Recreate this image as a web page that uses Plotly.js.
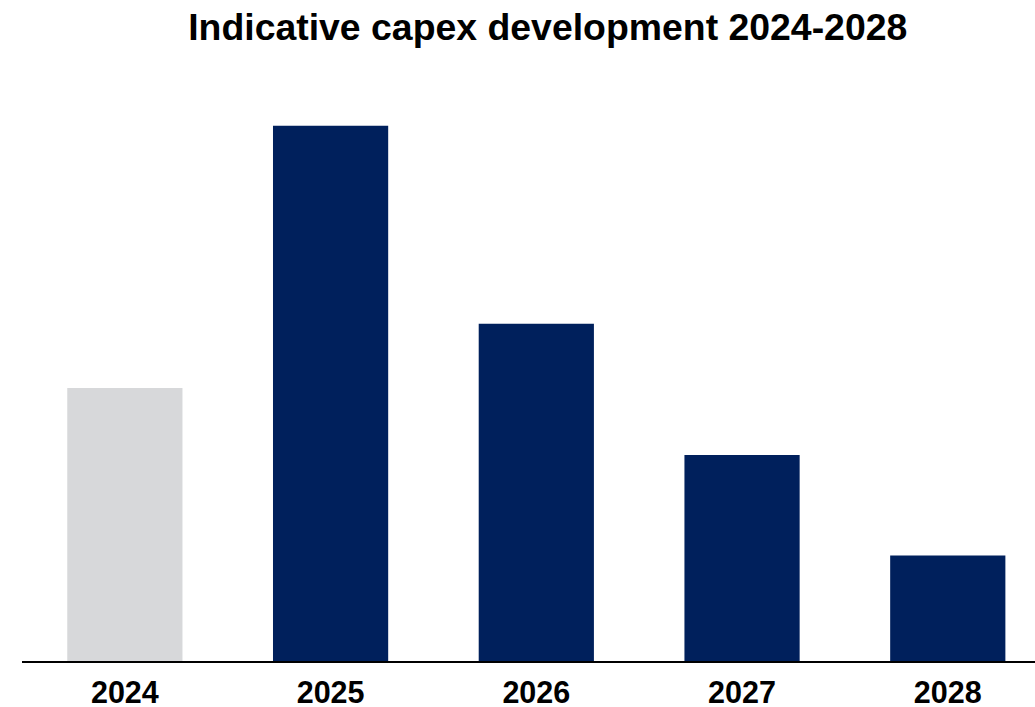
<!DOCTYPE html>
<html>
<head>
<meta charset="utf-8">
<script src="https://cdn.plot.ly/plotly-3.0.1.min.js"></script>
<style>html,body{margin:0;padding:0;background:#fff;}#chart{width:1035px;height:707px;}</style>
</head>
<body>
<div id="chart"></div>
<script>
const years = ['2024', '2025', '2026', '2027', '2028'];
const capex = [5.1, 10.0, 6.3, 3.85, 1.97];
const barColors = ['#d7d8da', '#00205c', '#00205c', '#00205c', '#00205c'];
const titleText = 'Indicative capex development 2024-2028';

const trace = {
  type: 'bar',
  x: years,
  y: capex,
  marker: {color: barColors, line: {width: 0}},
  hoverinfo: 'x+y'
};

const layout = {
  width: 1035,
  height: 707,
  margin: {l: 22, r: 0, t: 100, b: 46, pad: 0},
  paper_bgcolor: '#ffffff',
  plot_bgcolor: '#ffffff',
  bargap: 0.44,
  showlegend: false,
  title: {
    text: '<b>' + titleText + '</b>',
    font: {family: 'Liberation Sans, Arial, sans-serif', size: 37.4, color: '#000000'},
    x: 0.519, xanchor: 'center', xref: 'paper',
    y: 1 - 27 / 707, yanchor: 'middle', yref: 'container'
  },
  xaxis: {
    type: 'category',
    range: [-0.5, 4.424],
    showline: true, linecolor: '#000000', linewidth: 2,
    showgrid: false, zeroline: false,
    ticks: '', ticklabelstandoff: 3,
    tickfont: {family: 'Liberation Sans, Arial, sans-serif', size: 30.5, color: '#000000', weight: 'bold'}
  },
  yaxis: {
    range: [0, 10.48],
    visible: false, showgrid: false, zeroline: false
  }
};

Plotly.newPlot('chart', [trace], layout, {displayModeBar: false, staticPlot: true});
</script>
</body>
</html>
